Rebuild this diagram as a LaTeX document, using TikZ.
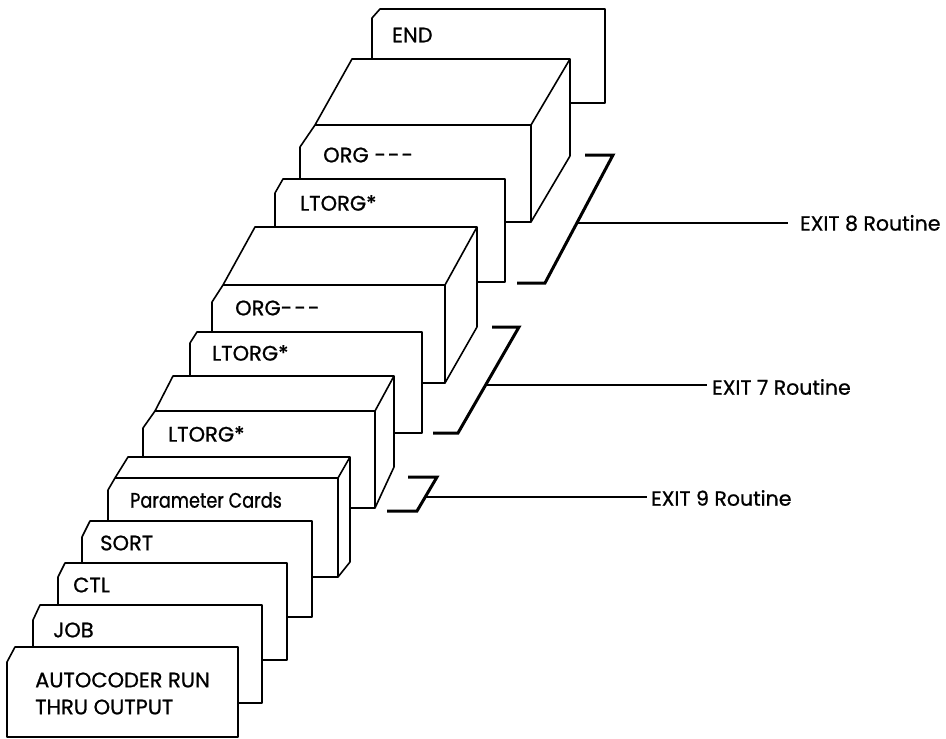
\documentclass[tikz,border=0pt]{standalone}
\usepackage{fontspec}
\setmainfont{Poppins}
\newfontfamily\lblfont{Poppins}[FakeBold=0.8]
\newfontfamily\lblnarrow{Poppins}[FakeBold=0.8,FakeStretch=0.84]
\begin{document}
\begin{tikzpicture}[x=1pt,y=-1pt,
  card/.style={draw=black,fill=white,line width=1.6pt,line join=round},
  edge/.style={draw=black,line width=1.6pt,line join=round},
  bracket/.style={draw=black,line width=3pt,line join=miter},
  leader/.style={draw=black,line width=1.8pt},
  lbl/.style={font=\lblfont\fontsize{21}{27}\selectfont,inner sep=0pt,anchor=west,text=black,align=left},
  nlbl/.style={lbl,font=\lblnarrow\fontsize{21}{27}\selectfont},
  xlbl/.style={lbl,font=\lblfont\fontsize{20.5}{24}\selectfont}]
\useasboundingbox (0,0) rectangle (946,739);
% END card
\path[card] (372,103) -- (372,18) -- (380,9) -- (605,9) -- (605,103) -- cycle;
\node[lbl] (tEND) at (392,35) {END};
% deck 3
\path[card] (300,222) -- (300,147) -- (315,125) -- (352,59) -- (570,59) -- (570,156) -- (531,222) -- cycle;
\draw[edge] (315,125) -- (531,125) -- (570,59) (531,125) -- (531,222);
\node[lbl] (tORGa) at (323,155) {ORG -\kern2pt-\kern2pt-};
% upper LTORG card
\path[card] (275,282) -- (275,193) -- (283,179) -- (505,179) -- (505,282) -- cycle;
\node[lbl] (tLTa) at (300,203) {LTORG*};
% deck 2
\path[card] (212,383) -- (212,302) -- (223,285) -- (255,227) -- (477,227) -- (477,327) -- (445,383) -- cycle;
\draw[edge] (223,285) -- (445,285) -- (477,227) (445,285) -- (445,383);
\node[lbl] (tORGb) at (235,308) {ORG-\kern2pt-\kern2pt-};
% middle LTORG card
\path[card] (190,433) -- (190,343) -- (197,332) -- (422,332) -- (422,433) -- cycle;
\node[lbl] (tLTb) at (212,353) {LTORG*};
% deck 1
\path[card] (143,508) -- (143,428) -- (155,411) -- (173,376) -- (394,376) -- (394,467) -- (375,508) -- cycle;
\draw[edge] (155,411) -- (375,411) -- (394,376) (375,411) -- (375,508);
\node[lbl] (tLTc) at (168,434) {LTORG*};
% parameter deck
\path[card] (108,577) -- (108,490) -- (115,478) -- (128,457) -- (350,457) -- (350,562) -- (338,577) -- cycle;
\draw[edge] (115,478) -- (338,478) -- (350,457) (338,478) -- (338,577);
\node[nlbl] (tPAR) at (130,500) {Parameter Cards};
% SORT, CTL, JOB, AUTOCODER cards
\path[card] (82,617) -- (82,537) -- (90,521) -- (312,521) -- (312,617) -- cycle;
\node[lbl] (tSORT) at (100,543) {SORT};
\path[card] (58,660) -- (58,577) -- (65,563) -- (287,563) -- (287,660) -- cycle;
\node[lbl] (tCTL) at (73,585) {CTL};
\path[card] (33,703) -- (33,620) -- (40,605) -- (262,605) -- (262,703) -- cycle;
\node[lbl] (tJOB) at (53,630) {JOB};
\path[card] (7,737) -- (7,662) -- (15,647) -- (238,647) -- (238,737) -- cycle;
\node[lbl] (tAUTO) at (35,693.5) {AUTOCODER RUN\\THRU OUTPUT};
% brackets
\draw[bracket] (585,155) -- (613,155) -- (545,283) -- (517,283);
\draw[bracket] (492,327) -- (519,327) -- (458,433) -- (433,433);
\draw[bracket] (408,477) -- (437,477) -- (417,511) -- (387,511);
\coordinate (b8) at (577,223);
\coordinate (b7) at (485.6,385);
\coordinate (b9) at (425.2,497);
\node[xlbl] (e8) at (800,223) {EXIT 8 Routine};
\node[xlbl] (e7) at (712,387) {EXIT 7 Routine};
\node[xlbl] (e9) at (651,498) {EXIT 9 Routine};
\draw[leader] (b8) -- ([xshift=-12pt]e8.west |- b8);
\draw[leader] (b7) -- ([xshift=-5pt]e7.west |- b7);
\draw[leader] (b9) -- ([xshift=-4pt]e9.west |- b9);
\end{tikzpicture}
\end{document}
